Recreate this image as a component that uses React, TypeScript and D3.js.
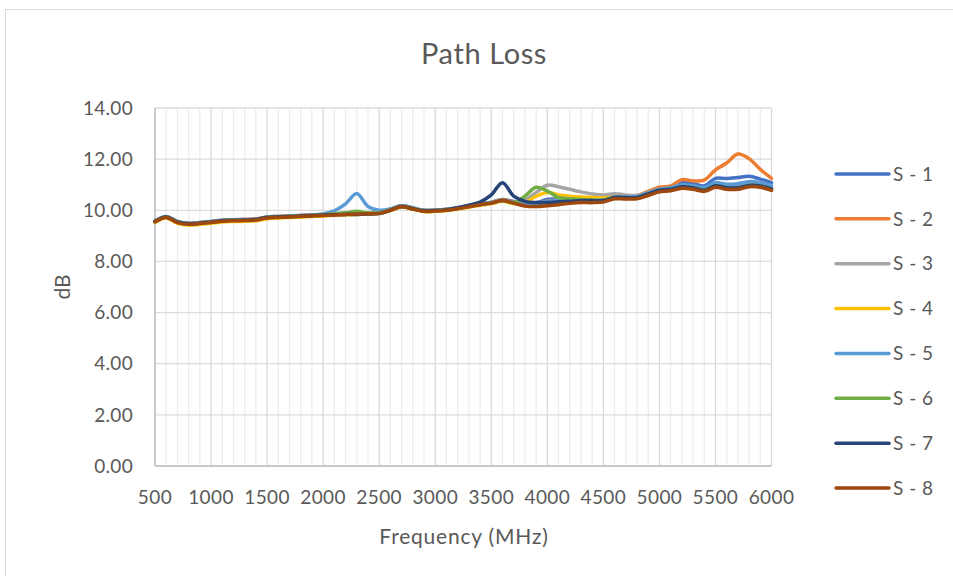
import React from 'react';
import * as d3 from 'd3';

const freqs = [
  500, 600, 700, 800, 900, 1000, 1100, 1200, 1300, 1400, 1500, 1600, 1700, 1800,
  1900, 2000, 2100, 2200, 2300, 2400, 2500, 2600, 2700, 2800, 2900, 3000, 3100,
  3200, 3300, 3400, 3500, 3600, 3700, 3800, 3900, 4000, 4100, 4200, 4300, 4400,
  4500, 4600, 4700, 4800, 4900, 5000, 5100, 5200, 5300, 5400, 5500, 5600, 5700,
  5800, 5900, 6000,
];

// S-1 .. S-8, one value per frequency above (dB)
const s1 = [
  9.58, 9.76, 9.56, 9.49, 9.52, 9.56, 9.61, 9.63, 9.64, 9.66, 9.74, 9.76, 9.78, 9.8,
  9.82, 9.84, 9.86, 9.88, 9.89, 9.9, 9.92, 10.04, 10.18, 10.09, 10.0, 10.01, 10.04,
  10.1, 10.18, 10.25, 10.32, 10.42, 10.34, 10.26, 10.3, 10.42, 10.45, 10.44, 10.42,
  10.42, 10.42, 10.55, 10.55, 10.56, 10.7, 10.85, 10.92, 11.1, 11.05, 10.95, 11.25,
  11.24, 11.28, 11.33, 11.22, 11.08,
];
const s2 = [
  9.57, 9.75, 9.55, 9.48, 9.51, 9.55, 9.6, 9.62, 9.64, 9.66, 9.74, 9.76, 9.78, 9.8,
  9.82, 9.84, 9.86, 9.88, 9.89, 9.9, 9.92, 10.04, 10.17, 10.08, 10.0, 10.0, 10.03,
  10.09, 10.17, 10.24, 10.3, 10.4, 10.32, 10.22, 10.22, 10.36, 10.4, 10.4, 10.4,
  10.4, 10.42, 10.56, 10.56, 10.58, 10.74, 10.9, 10.95, 11.2, 11.15, 11.18, 11.58,
  11.85, 12.2, 12.02, 11.6, 11.25,
];
const s3 = [
  9.56, 9.74, 9.54, 9.47, 9.5, 9.54, 9.59, 9.61, 9.62, 9.64, 9.72, 9.74, 9.76, 9.78,
  9.8, 9.82, 9.85, 9.87, 9.88, 9.89, 9.9, 10.02, 10.16, 10.07, 9.98, 9.99, 10.02,
  10.08, 10.16, 10.23, 10.3, 10.38, 10.3, 10.4, 10.7, 10.98, 10.92, 10.82, 10.72,
  10.64, 10.6, 10.65, 10.6, 10.58, 10.7, 10.82, 10.86, 10.95, 10.92, 10.84, 11.0,
  10.94, 10.94, 11.02, 11.0, 10.9,
];
const s4 = [
  9.52, 9.7, 9.49, 9.42, 9.45, 9.49, 9.54, 9.56, 9.57, 9.59, 9.67, 9.7, 9.72, 9.74,
  9.76, 9.78, 9.81, 9.83, 9.84, 9.85, 9.87, 9.99, 10.13, 10.04, 9.95, 9.96, 9.99,
  10.05, 10.12, 10.2, 10.26, 10.35, 10.26, 10.3, 10.55, 10.7, 10.6, 10.55, 10.52,
  10.5, 10.48, 10.52, 10.5, 10.5, 10.62, 10.76, 10.8, 10.9, 10.86, 10.78, 10.95,
  10.86, 10.86, 10.95, 10.93, 10.82,
];
const s5 = [
  9.57, 9.75, 9.55, 9.48, 9.51, 9.55, 9.6, 9.62, 9.63, 9.65, 9.73, 9.75, 9.77, 9.79,
  9.82, 9.86, 9.98, 10.25, 10.66, 10.15, 10.0, 10.05, 10.18, 10.09, 10.0, 10.0, 10.03,
  10.09, 10.17, 10.24, 10.3, 10.38, 10.3, 10.22, 10.25, 10.35, 10.38, 10.38, 10.38,
  10.38, 10.4, 10.52, 10.52, 10.54, 10.68, 10.82, 10.88, 11.0, 10.96, 10.88, 11.08,
  11.02, 11.04, 11.12, 11.08, 10.96,
];
const s6 = [
  9.56, 9.74, 9.54, 9.47, 9.5, 9.54, 9.59, 9.61, 9.62, 9.64, 9.72, 9.74, 9.76, 9.78,
  9.8, 9.83, 9.86, 9.9, 9.96, 9.9, 9.9, 10.02, 10.15, 10.06, 9.98, 9.99, 10.02,
  10.08, 10.15, 10.23, 10.29, 10.38, 10.3, 10.55, 10.9, 10.75, 10.5, 10.45, 10.42,
  10.4, 10.4, 10.5, 10.5, 10.5, 10.64, 10.78, 10.82, 10.92, 10.88, 10.8, 10.96,
  10.88, 10.88, 10.97, 10.95, 10.84,
];
const s7 = [
  9.56, 9.74, 9.54, 9.47, 9.5, 9.54, 9.59, 9.61, 9.62, 9.64, 9.72, 9.74, 9.76, 9.78,
  9.8, 9.82, 9.83, 9.84, 9.84, 9.85, 9.87, 10.0, 10.15, 10.06, 9.98, 9.99, 10.02,
  10.1, 10.2, 10.32, 10.6, 11.08, 10.55, 10.35, 10.3, 10.3, 10.33, 10.35, 10.38,
  10.38, 10.38, 10.5, 10.5, 10.5, 10.64, 10.78, 10.82, 10.92, 10.88, 10.78, 10.96,
  10.88, 10.88, 10.97, 10.95, 10.84,
];
const s8 = [
  9.55, 9.72, 9.52, 9.45, 9.48, 9.52, 9.57, 9.59, 9.6, 9.62, 9.7, 9.72, 9.74, 9.76,
  9.78, 9.8, 9.82, 9.84, 9.85, 9.86, 9.88, 10.0, 10.14, 10.05, 9.96, 9.97, 10.0,
  10.06, 10.14, 10.22, 10.28, 10.38, 10.28, 10.17, 10.15, 10.18, 10.22, 10.27, 10.3,
  10.3, 10.32, 10.45, 10.44, 10.45, 10.58, 10.72, 10.76, 10.86, 10.82, 10.74, 10.9,
  10.82, 10.82, 10.92, 10.9, 10.78,
];

const seriesNames = ['S - 1', 'S - 2', 'S - 3', 'S - 4', 'S - 5', 'S - 6', 'S - 7', 'S - 8'];
const seriesValues = [s1, s2, s3, s4, s5, s6, s7, s8];
const colors = ['#4472C4', '#ED7D31', '#A5A5A5', '#FFC000', '#5B9BD5', '#70AD47', '#264478', '#9E480E'];

const yTicks = [0, 2, 4, 6, 8, 10, 12, 14];
const xTicks = [500, 1000, 1500, 2000, 2500, 3000, 3500, 4000, 4500, 5000, 5500, 6000];

const W = 953;
const H = 576;
const plot = { left: 155, right: 771.5, top: 108, bottom: 466 };
const font = 'Lato, "Open Sans", sans-serif';
const textColor = '#595959';

export default function App() {
  const x = d3.scaleLinear().domain([500, 6000]).range([plot.left, plot.right]);
  const y = d3.scaleLinear().domain([0, 14]).range([plot.bottom, plot.top]);
  const line = d3
    .line<number>()
    .x((_, i) => x(freqs[i]))
    .y((v) => y(v))
    .curve(d3.curveCatmullRom.alpha(0.5));

  const minorX = d3.range(500, 6001, 100).filter((f) => f % 500 !== 0);
  const legendY = d3.scaleLinear().domain([0, 7]).range([174, 488]);

  return (
    <svg
      width={W}
      height={H}
      style={{ position: 'absolute', left: 0, top: 0, background: '#fff' }}
      fontFamily={font}
    >
      <rect x={5.5} y={9.5} width={W} height={H} fill="#fff" stroke="#d9d9d9" />
      <text x={484} y={64} textAnchor="middle" fontSize={29} letterSpacing={0.6} fill={textColor}>
        Path Loss
      </text>

      {minorX.map((f) => (
        <line key={'mx' + f} x1={x(f)} x2={x(f)} y1={plot.top} y2={plot.bottom} stroke="#ededed" strokeWidth={1.3} />
      ))}
      {yTicks.map((t) => (
        <line key={'gy' + t} x1={plot.left} x2={plot.right} y1={y(t)} y2={y(t)} stroke="#dcdcdc" strokeWidth={1.3} />
      ))}
      {xTicks.map((f) => (
        <line key={'gx' + f} x1={x(f)} x2={x(f)} y1={plot.top} y2={plot.bottom} stroke="#d9d9d9" strokeWidth={1.3} />
      ))}
      <line x1={plot.left} x2={plot.right} y1={plot.bottom} y2={plot.bottom} stroke="#bfbfbf" strokeWidth={1.3} />
      <line x1={plot.left} x2={plot.left} y1={plot.top} y2={plot.bottom} stroke="#bfbfbf" strokeWidth={1.3} />

      {yTicks.map((t) => (
        <text key={'yl' + t} x={133} y={y(t)} dy="0.35em" textAnchor="end" fontSize={19} letterSpacing={0.3} fill={textColor}>
          {t.toFixed(2)}
        </text>
      ))}
      {xTicks.map((f) => (
        <text key={'xl' + f} x={x(f)} y={504} textAnchor="middle" fontSize={19} letterSpacing={0.4} fill={textColor}>
          {f}
        </text>
      ))}
      <text x={464} y={544} textAnchor="middle" fontSize={21} letterSpacing={0.8} fill={textColor}>
        Frequency (MHz)
      </text>
      <text
        transform={`translate(70, ${(plot.top + plot.bottom) / 2}) rotate(-90)`}
        textAnchor="middle"
        fontSize={21}
        fill={textColor}
      >
        dB
      </text>

      {seriesValues.map((vals, i) => (
        <path
          key={seriesNames[i]}
          d={line(vals) || ''}
          fill="none"
          stroke={colors[i]}
          strokeWidth={3.5}
          strokeLinejoin="round"
          strokeLinecap="round"
        />
      ))}

      {seriesNames.map((name, i) => (
        <g key={'lg' + name} transform={`translate(0, ${legendY(i)})`}>
          <line x1={836} x2={889} y1={0} y2={0} stroke={colors[i]} strokeWidth={3.5} strokeLinecap="round" />
          <text x={893} y={0} dy="0.35em" fontSize={19} letterSpacing={0.5} fill={textColor}>
            {name}
          </text>
        </g>
      ))}
    </svg>
  );
}
